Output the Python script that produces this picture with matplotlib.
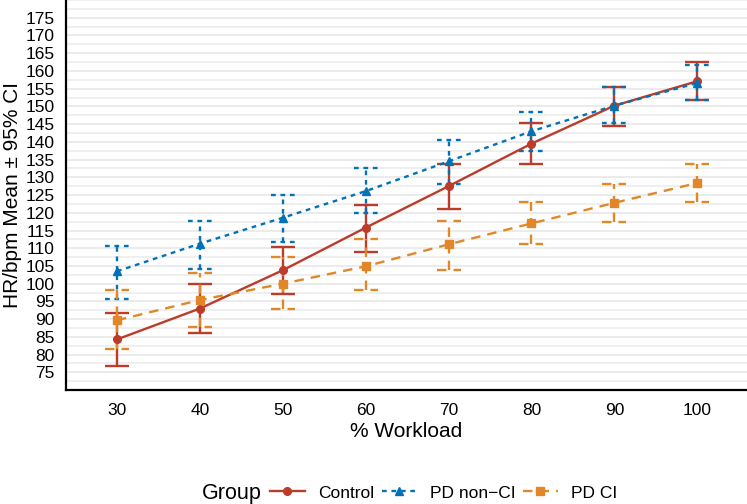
import matplotlib
matplotlib.use("Agg")
import matplotlib.pyplot as plt
import numpy as np
from matplotlib.ticker import MultipleLocator

plt.rcParams['font.family'] = ['Liberation Sans', 'DejaVu Sans']

workload = [30, 40, 50, 60, 70, 80, 90, 100]

control_mean = [84.3, 93.0, 103.8, 115.8, 127.5, 139.5, 150.2, 157.1]
control_lo = [76.8, 86.0, 97.0, 109.0, 121.1, 133.8, 144.6, 151.7]
control_hi = [91.8, 99.8, 110.4, 122.3, 133.8, 145.3, 155.4, 162.4]

nonci_mean = [103.5, 111.3, 118.6, 126.1, 134.5, 143.0, 150.2, 156.6]
nonci_lo = [95.6, 104.2, 111.8, 119.8, 128.2, 137.3, 145.3, 151.7]
nonci_hi = [110.6, 117.8, 125.0, 132.5, 140.6, 148.3, 155.4, 161.6]

ci_mean = [89.7, 95.4, 100.0, 104.9, 111.1, 117.0, 122.8, 128.4]
ci_lo = [81.5, 87.9, 92.9, 98.1, 104.0, 111.1, 117.3, 123.0]
ci_hi = [98.2, 102.9, 107.5, 112.5, 117.8, 123.0, 128.2, 133.8]

groups = [
    ("Control", control_mean, control_lo, control_hi, "#BC3C29", "-", "o"),
    ("PD non\u2212CI", nonci_mean, nonci_lo, nonci_hi, "#0072B5", (0, (2, 2)), "^"),
    ("PD CI", ci_mean, ci_lo, ci_hi, "#E18727", (0, (4, 3)), "s"),
]

fig = plt.figure(figsize=(7.47, 5.04), dpi=100)
ax = fig.add_axes([0.0884, 0.226, 0.9116, 0.774])

cap = 1.45  # half width of caps, in x data units
for name, m, lo, hi, col, ls, mk in groups:
    x = np.array(workload)
    ax.vlines(x, lo, hi, colors=col, linestyles=ls, lw=1.7, zorder=3)
    ax.hlines(lo, x - cap, x + cap, colors=col, linestyles=ls, lw=1.7, zorder=3)
    ax.hlines(hi, x - cap, x + cap, colors=col, linestyles=ls, lw=1.7, zorder=3)
    ax.plot(x, m, color=col, linestyle=ls, lw=1.7, marker=mk, markersize=5.5,
            label=name, zorder=4)

ax.set_xlim(23.85, 106)
ax.set_ylim(70, 180)
ax.set_xticks(workload)
ax.set_yticks(np.arange(75, 176, 5))
ax.yaxis.set_minor_locator(MultipleLocator(2.5))
ax.grid(axis='y', which='major', color='#e6e6e6', lw=1.1)
ax.grid(axis='y', which='minor', color='#ebebeb', lw=1.1)
ax.set_axisbelow(True)
ax.tick_params(axis='both', which='both', length=0, labelsize=12.5, colors='black')
ax.tick_params(axis='x', pad=9)
ax.tick_params(axis='y', pad=8)

for s in ['top', 'right']:
    ax.spines[s].set_visible(False)
for s in ['left', 'bottom']:
    ax.spines[s].set_linewidth(1.6)
    ax.spines[s].set_color('black')

ax.set_xlabel("% Workload", fontsize=15, labelpad=3)
ax.set_ylabel("HR/bpm Mean \u00b1 95% CI", fontsize=15, labelpad=3)

# legend: title on the left, keys in one row
fig.text(202 / 747, 1 - 493 / 504, "Group", fontsize=15.5, va='center', ha='left')
fig.legend(loc='center left', bbox_to_anchor=(270 / 747, 1 - 493 / 504), ncol=3,
           frameon=False, fontsize=12.5, handlelength=2.0, handletextpad=0.8,
           columnspacing=0.4, borderpad=0, borderaxespad=0)

fig.savefig("out.png", dpi=100)
